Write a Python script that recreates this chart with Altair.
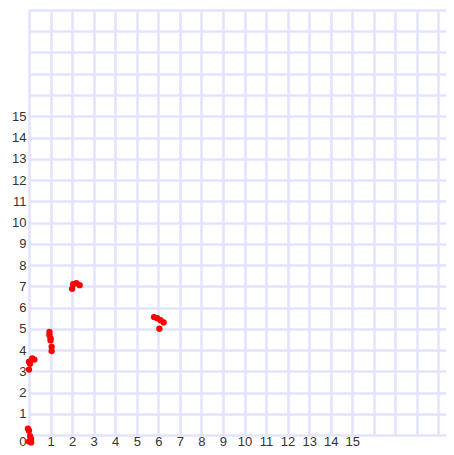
import altair as alt
import pandas as pd

# Red point cloud
x_vals = [0.00, 0.05, 0.10, 0.00, 0.10, -0.05,
          0.00, 0.15, 0.25, 0.05, 0.00,
          0.95, 0.95, 1.00, 1.00, 1.05, 1.05,
          2.05, 2.20, 2.35, 2.00,
          5.80, 5.95, 6.10, 6.25, 6.05]
y_vals = [0.20, -0.05, -0.20, -0.30, -0.35, 0.30,
          3.45, 3.60, 3.55, 3.35, 3.08,
          4.85, 4.70, 4.55, 4.45, 4.15, 3.95,
          7.10, 7.15, 7.05, 6.88,
          5.55, 5.50, 5.40, 5.30, 5.00]

x_grid = list(range(0, 20))
y_grid = list(range(0, 21))
x_labels = list(range(1, 16))
y_labels = list(range(0, 16))

df = pd.DataFrame({"x": x_vals, "y": y_vals})

grid_color = "#e3e3ff"
font = "Liberation Sans"

x_axis = alt.Axis(
    values=x_grid, grid=True, ticks=False, domain=False, title=None,
    labelExpr=f"indexof({x_labels}, datum.value) >= 0 ? datum.label : ''",
    labelFont=font, labelFontSize=13, labelColor="#333333", labelPadding=0,
    labelFlush=False, labelOverlap=False,
    gridColor=grid_color, gridWidth=2.6,
)
y_axis = alt.Axis(
    values=y_grid, grid=True, ticks=False, domain=False, title=None,
    labelExpr=f"indexof({y_labels}, datum.value) >= 0 ? datum.label : ''",
    labelFont=font, labelFontSize=13, labelColor="#333333", labelPadding=3,
    labelBaseline={"condition": {"test": "datum.value == 0", "value": "top"}, "value": "middle"},
    labelFlush=False, labelOverlap=False,
    gridColor=grid_color, gridWidth=2.6,
)

chart = alt.Chart(df).mark_circle(color="#ff0000", opacity=1, size=40).encode(
    x=alt.X("x:Q", scale=alt.Scale(domain=[0, 19.35], nice=False, zero=False), axis=x_axis),
    y=alt.Y("y:Q", scale=alt.Scale(domain=[0, 20], nice=False, zero=False), axis=y_axis),
).properties(
    width=417, height=425, autosize="none",
    padding={"left": 21, "top": 2, "right": 0, "bottom": 12},
).configure_view(stroke=None)

chart.save("out.html", embed_options={"renderer": "svg", "actions": False})
